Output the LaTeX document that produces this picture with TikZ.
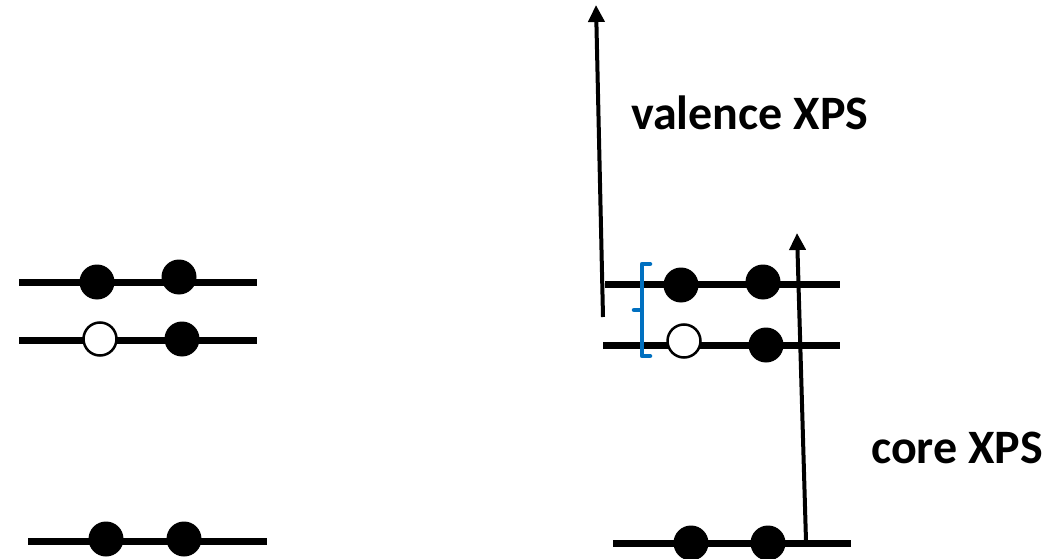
\documentclass[tikz,border=0pt]{standalone}
\usepackage{fontspec}
\setmainfont{Carlito}
\usetikzlibrary{arrows.meta}
\definecolor{bracketblue}{RGB}{0,112,192}
\tikzset{
  level/.style={line width=7pt},
  full/.style={circle,fill=black,draw=none,minimum size=35pt,inner sep=0pt},
  hole/.style={circle,fill=white,draw=black,line width=2.5pt,minimum size=33pt,inner sep=0pt},
  photo/.style={line width=4pt,-{Triangle[length=17pt,width=16pt]}},
  lab/.style={font=\fontsize{48}{56}\selectfont\bfseries,anchor=base west,inner sep=0pt},
}
\begin{document}
\begin{tikzpicture}[x=1pt,y=-1pt]
\useasboundingbox (0,0) rectangle (1058,559);
% left group
\coordinate (l1a) at (19,282); \coordinate (l1b) at (257,282);
\coordinate (l2a) at (19,340); \coordinate (l2b) at (257,340);
\coordinate (l3a) at (28,541); \coordinate (l3b) at (267,541);
\draw[level] (l1a) -- (l1b);
\draw[level] (l2a) -- (l2b);
\draw[level] (l3a) -- (l3b);
\node[full] (d1) at (97,282) {};
\node[full] (d2) at (179,277) {};
\node[hole] (h1) at (100,339) {};
\node[full] (d3) at (182,339) {};
\node[full] (d4) at (106,539) {};
\node[full] (d5) at (184,539) {};
% right group
\coordinate (r1a) at (605,284); \coordinate (r1b) at (840,284);
\coordinate (r2a) at (603,345); \coordinate (r2b) at (840,345);
\coordinate (r3a) at (613,543); \coordinate (r3b) at (851,543);
\draw[level] (r1a) -- (r1b);
\draw[level] (r2a) -- (r2b);
\draw[level] (r3a) -- (r3b);
\node[full] (e1) at (681,285) {};
\node[full] (e2) at (763,282) {};
\node[hole] (g1) at (684,341) {};
\node[full] (e3) at (766,345) {};
\node[full] (e4) at (691,543) {};
\node[full] (e5) at (768,543) {};
% arrows
\coordinate (vb) at (603,317); \coordinate (vt) at (596,5);
\draw[photo] (vb) -- (vt);
\coordinate (cb) at (806,541); \coordinate (ct) at (797,233);
\draw[photo] (cb) -- (ct);
% bracket
\coordinate (bt) at (650,264); \coordinate (bb) at (650,356);
\draw[bracketblue,line width=4.5pt,line join=round,line cap=round]
  (bt) -- (642,264) -- (642,310) -- (634,310) -- (642,310) -- (642,356) -- (bb);
% labels
\node[lab] (vx) at (631,130) {valence XPS};
\node[lab] (cx) at (871,463) {core XPS};
\end{tikzpicture}
\end{document}
